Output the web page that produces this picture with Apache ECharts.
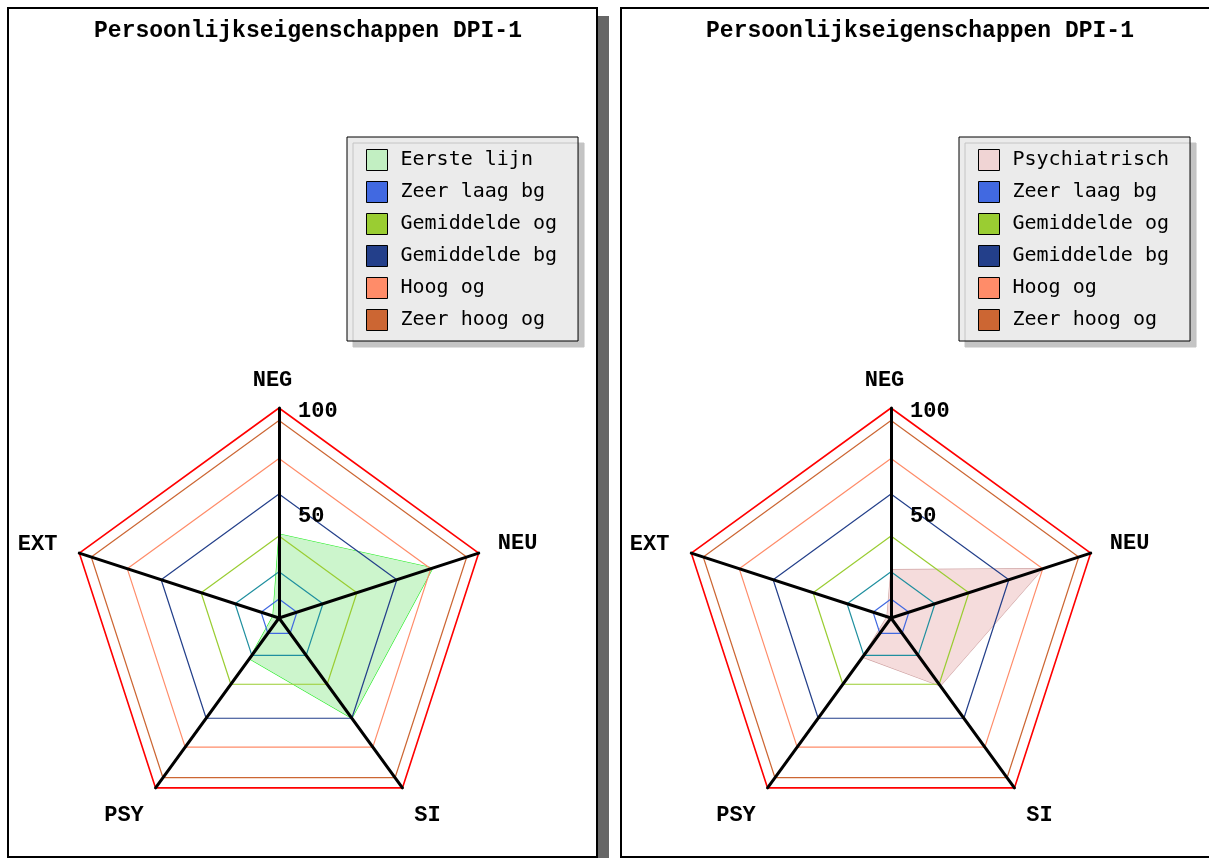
<!DOCTYPE html>
<html><head><meta charset="utf-8">
<script src="https://cdn.jsdelivr.net/npm/echarts@6/dist/echarts.min.js"></script>
<style>html,body{margin:0;padding:0;background:#fff}#c{width:1209px;height:858px}</style>
</head><body><div id="c"></div>
<script>
// ---- data (indicator order as ECharts places them: top, then counter-clockwise) ----
const indicatorNames = ['NEG', 'EXT', 'PSY', 'SI', 'NEU'];
const axisMax = 100;
const tickLabels = [50, 100];
const titleText = 'Persoonlijkseigenschappen DPI-1';

const eersteLijn    = [40, 3, 24, 59, 77];
const psychiatrisch = [23, 2, 23, 40, 76];

const zeerLaagBg    = [9, 9, 9, 9, 9];
const laagRing      = [22, 22, 22, 22, 22];
const gemiddeldeOg  = [39, 39, 39, 39, 39];
const gemiddeldeBg  = [59, 59, 59, 59, 59];
const hoogOg        = [76, 76, 76, 76, 76];
const zeerHoogOg    = [94, 94, 94, 94, 94];
const maxRing       = [100, 100, 100, 100, 100];

// ---- styles ----
const C = {
  zeerLaagBg: '#4169e1', laag: '#1f8f9f', gemOg: '#9acd32', gemBg: '#233f8a',
  hoogOg: '#ff8c69', zeerHoogOg: '#cc6633', max: '#ff0000'
};
const boldFont = 'Liberation Mono';
const legendFont = 'DejaVu Sans Mono';
const boldText = { fontFamily: boldFont, fontWeight: 'bold', fontSize: 22, color: '#000' };

const nameGaps = { NEG: 17, EXT: 23, PSY: 20, SI: 20, NEU: 20 };
const nameRichKey = { NEG: 'neg', EXT: 'ext', PSY: 'down', SI: 'down', NEU: 'up' };
const nameRich = {
  neg:  Object.assign({ padding: [0, 13, 0, 0] }, boldText),
  ext:  Object.assign({ padding: [0, 0, 4, 0] }, boldText),
  down: Object.assign({ padding: [22, 0, 0, 0] }, boldText),
  up:   Object.assign({ padding: [0, 0, 7, 0] }, boldText)
};

function buildIndicators() {
  return indicatorNames.map((n, i) => {
    const ind = { name: n, max: axisMax, min: 0, nameGap: nameGaps[n] };
    if (i === 0) {
      ind.axisLabel = Object.assign({
        show: true, showMinLabel: false, margin: -19, align: 'left', verticalAlign: 'middle',
        formatter: v => (tickLabels.indexOf(v) >= 0 ? '{l|' + v + '}' : ''),
        rich: { l: Object.assign({ padding: [7, 0, 0, 0] }, boldText) }
      }, boldText);
    }
    return ind;
  });
}

function radarCfg(cx) {
  return {
    center: [cx, 618], radius: 210, startAngle: 90, shape: 'polygon', splitNumber: 2, z: 10,
    indicator: buildIndicators(),
    axisName: Object.assign({
      formatter: name => '{' + nameRichKey[name] + '|' + name + '}',
      rich: nameRich
    }, boldText),
    axisLine: { lineStyle: { color: '#000', width: 3 } },
    splitLine: { show: false }, splitArea: { show: false }, axisTick: { show: false },
    axisLabel: { show: false }
  };
}

function ringSeries(radarIndex, name, values, color, width) {
  return {
    type: 'radar', radarIndex, name, symbol: 'none', silent: true, z: 3,
    lineStyle: { color, width: width || 1.2 }, itemStyle: { color },
    data: [{ name, value: values }]
  };
}

function panelSeries(radarIndex, dataName, dataValues, fill, line) {
  return [
    {
      type: 'radar', radarIndex, name: dataName, symbol: 'none', z: 2,
      lineStyle: { color: line, width: 1.2 }, itemStyle: { color: fill },
      areaStyle: { color: fill, opacity: 1 },
      data: [{ name: dataName, value: dataValues }]
    },
    ringSeries(radarIndex, 'Zeer laag bg', zeerLaagBg, C.zeerLaagBg),
    ringSeries(radarIndex, 'ring-laag-' + radarIndex, laagRing, C.laag),
    ringSeries(radarIndex, 'Gemiddelde og', gemiddeldeOg, C.gemOg),
    ringSeries(radarIndex, 'Gemiddelde bg', gemiddeldeBg, C.gemBg),
    ringSeries(radarIndex, 'Hoog og', hoogOg, C.hoogOg),
    ringSeries(radarIndex, 'Zeer hoog og', zeerHoogOg, C.zeerHoogOg),
    ringSeries(radarIndex, 'ring-max-' + radarIndex, maxRing, C.max, 1.6)
  ];
}

function legendCfg(left, firstName, firstColor) {
  const items = [
    [firstName, firstColor], ['Zeer laag bg', C.zeerLaagBg], ['Gemiddelde og', C.gemOg],
    ['Gemiddelde bg', C.gemBg], ['Hoog og', C.hoogOg], ['Zeer hoog og', C.zeerHoogOg]
  ];
  return {
    left, top: 137, orient: 'vertical', icon: 'rect', itemWidth: 21, itemHeight: 21, itemGap: 10,
    padding: [12, 21, 10, 19], backgroundColor: '#ebebeb', borderColor: '#000', borderWidth: 1,
    shadowColor: '#c4c4c4', shadowOffsetX: 6, shadowOffsetY: 6, shadowBlur: 0,
    selectedMode: false,
    textStyle: { fontFamily: legendFont, fontSize: 20, color: '#000', padding: [0, 0, 0, 8] },
    data: items.map(([n, c]) => ({ name: n, itemStyle: { color: c, borderColor: '#000', borderWidth: 1 } }))
  };
}

const chart = echarts.init(document.getElementById('c'), null, { renderer: 'canvas' });
chart.setOption({
  backgroundColor: '#fff',
  animation: false,
  graphic: [
    { type: 'rect', z: -10, shape: { x: 598, y: 16, width: 11, height: 850 }, style: { fill: '#666' } },
    { type: 'rect', z: -9, shape: { x: 8, y: 8, width: 589, height: 849 }, style: { fill: '#fff', stroke: '#000', lineWidth: 2 } },
    { type: 'rect', z: -9, shape: { x: 621, y: 8, width: 592, height: 849 }, style: { fill: '#fff', stroke: '#000', lineWidth: 2 } }
  ],
  title: [
    { text: titleText, left: 308, top: 20, textAlign: 'center', padding: 0,
      textStyle: { fontFamily: boldFont, fontWeight: 'bold', fontSize: 23, color: '#000' } },
    { text: titleText, left: 920, top: 20, textAlign: 'center', padding: 0,
      textStyle: { fontFamily: boldFont, fontWeight: 'bold', fontSize: 23, color: '#000' } }
  ],
  legend: [
    legendCfg(347, 'Eerste lijn', '#c2efc2'),
    legendCfg(959, 'Psychiatrisch', '#f0d4d4')
  ],
  radar: [radarCfg(279), radarCfg(891)],
  series: [
    ...panelSeries(0, 'Eerste lijn', eersteLijn, '#ccf5cc', '#22ee22'),
    ...panelSeries(1, 'Psychiatrisch', psychiatrisch, '#f5dcdc', '#d0a4a4')
  ]
});
</script>
</body></html>
